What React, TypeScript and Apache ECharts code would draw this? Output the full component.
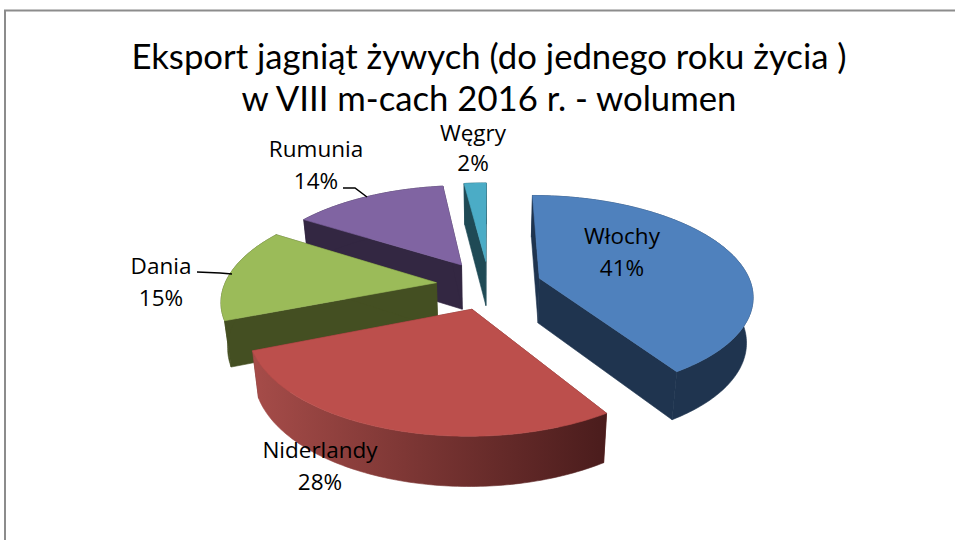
import React, { useEffect, useRef } from "react";
import * as echarts from "echarts";

const TITLE = "Eksport jagniąt żywych (do jednego roku życia )\nw VIII m-cach 2016 r. - wolumen";
const NAMES = ["Włochy", "Niderlandy", "Dania", "Rumunia", "Węgry"];
const VALUES = [41, 28, 15, 14, 2];
const TOP_COLORS = ["#4f81bd", "#bc4f4c", "#9bbb59", "#8064a2", "#4bacc6"];
const WALL_COLORS = ["#1f344f", "#6e302e", "#444f22", "#332742", "#1f4a55"];

const CX = 489;
const CY = 285;
const RX = 212;
const RY = 98;
const PERSPECTIVE = 0.16;
const EXPLODE = 0.25;
const DEPTH = 45;
const BOTTOM_SHRINK = 0.975;
const TOTAL = VALUES.reduce((a, b) => a + b, 0);

const rad = (d: number) => (d * Math.PI) / 180;
const starts: number[] = [];
VALUES.reduce((acc, v, i) => {
  starts[i] = acc;
  return acc + (v / TOTAL) * 360;
}, 0);
const mids = VALUES.map((v, i) => starts[i] + (v / TOTAL) * 180);
const drawOrder = VALUES.map((_, i) => i).sort((a, b) => -Math.cos(rad(mids[a])) + Math.cos(rad(mids[b])));

function project(u: number, v: number, bottom: boolean): number[] {
  const s = 1 / (1 - PERSPECTIVE * v);
  const x = CX + RX * u * s;
  const y = CY + RY * v * s;
  if (!bottom) return [x, y];
  return [CX + (x - CX) * BOTTOM_SHRINK, y + DEPTH * Math.sqrt(s)];
}

function renderSlice(params: any, api: any) {
  const i = drawOrder[params.dataIndex];
  const sweep = (api.value(0) / TOTAL) * 360;
  const a0 = starts[i];
  const ox = EXPLODE * Math.sin(rad(mids[i]));
  const oy = -EXPLODE * Math.cos(rad(mids[i]));
  const arc = (bottom: boolean) => {
    const pts: number[][] = [];
    const n = Math.max(4, Math.ceil(sweep));
    for (let k = 0; k <= n; k++) {
      const t = rad(a0 + (sweep * k) / n);
      pts.push(project(ox + Math.sin(t), oy - Math.cos(t), bottom));
    }
    return pts;
  };
  const topArc = arc(false);
  const botArc = arc(true);
  const apexT = project(ox, oy, false);
  const apexB = project(ox, oy, true);
  const wallFill: any =
    i === 1
      ? new echarts.graphic.LinearGradient(0, 0, 1, 0, [
          { offset: 0, color: "#a64c49" },
          { offset: 0.45, color: "#7c3634" },
          { offset: 1, color: "#4a1c1c" },
        ])
      : WALL_COLORS[i];
  const flat = WALL_COLORS[i];
  const poly = (points: number[][], fill: any) => ({
    type: "polygon",
    shape: { points },
    style: { fill, stroke: fill, lineWidth: 0.6, lineJoin: "round" },
    silent: true,
  });
  return {
    type: "group",
    children: [
      poly([apexT, topArc[0], botArc[0], apexB], flat),
      poly([apexT, topArc[topArc.length - 1], botArc[botArc.length - 1], apexB], flat),
      poly([...topArc, ...botArc.slice().reverse()], wallFill),
      poly([apexT, ...topArc], TOP_COLORS[i]),
    ],
  };
}

const labelFont = { fontFamily: "'Open Sans'", fontSize: 22.5, fill: "#000", align: "center", verticalAlign: "middle" };
const labelAnchors = [
  [622, 251],
  [320, 465],
  [161, 281],
  [316, 164],
  [473, 147],
];
const labelLineHeights = [32, 32, 32, 32, 30];

export default function App() {
  const ref = useRef<HTMLDivElement>(null);
  useEffect(() => {
    const chart = echarts.init(ref.current!, undefined, { renderer: "svg" });
    chart.setOption({
      animation: false,
      backgroundColor: "#ffffff",
      title: {
        text: TITLE,
        left: 484,
        top: 29,
        textAlign: "center",
        textStyle: { fontFamily: "Lato", fontSize: 34.7, fontWeight: "normal", color: "#000", lineHeight: 42 },
      },
      series: [
        {
          type: "custom",
          coordinateSystem: "none",
          data: drawOrder.map((i) => [VALUES[i]]),
          renderItem: renderSlice,
          silent: true,
        },
      ],
      graphic: [
        {
          type: "polyline",
          z: 5,
          shape: { points: [[5, 540], [5, 10.5], [955, 10.5]] },
          style: { stroke: "#8c8c8c", lineWidth: 2, fill: "none" },
        },
        {
          type: "polyline",
          z: 20,
          shape: { points: [[343, 188], [355, 188], [367, 197]] },
          style: { stroke: "#000", lineWidth: 1.5, fill: "none" },
        },
        {
          type: "polyline",
          z: 20,
          shape: { points: [[197, 272], [220, 273], [232, 274]] },
          style: { stroke: "#000", lineWidth: 1.5, fill: "none" },
        },
        ...NAMES.map((name, i) => ({
          type: "text",
          z: 30,
          x: labelAnchors[i][0],
          y: labelAnchors[i][1],
          style: { text: `${name}\n${VALUES[i]}%`, lineHeight: labelLineHeights[i], ...labelFont },
        })),
      ],
    });
    return () => chart.dispose();
  }, []);
  return <div ref={ref} style={{ position: "absolute", left: 0, top: 0, width: 955, height: 540 }} />;
}
